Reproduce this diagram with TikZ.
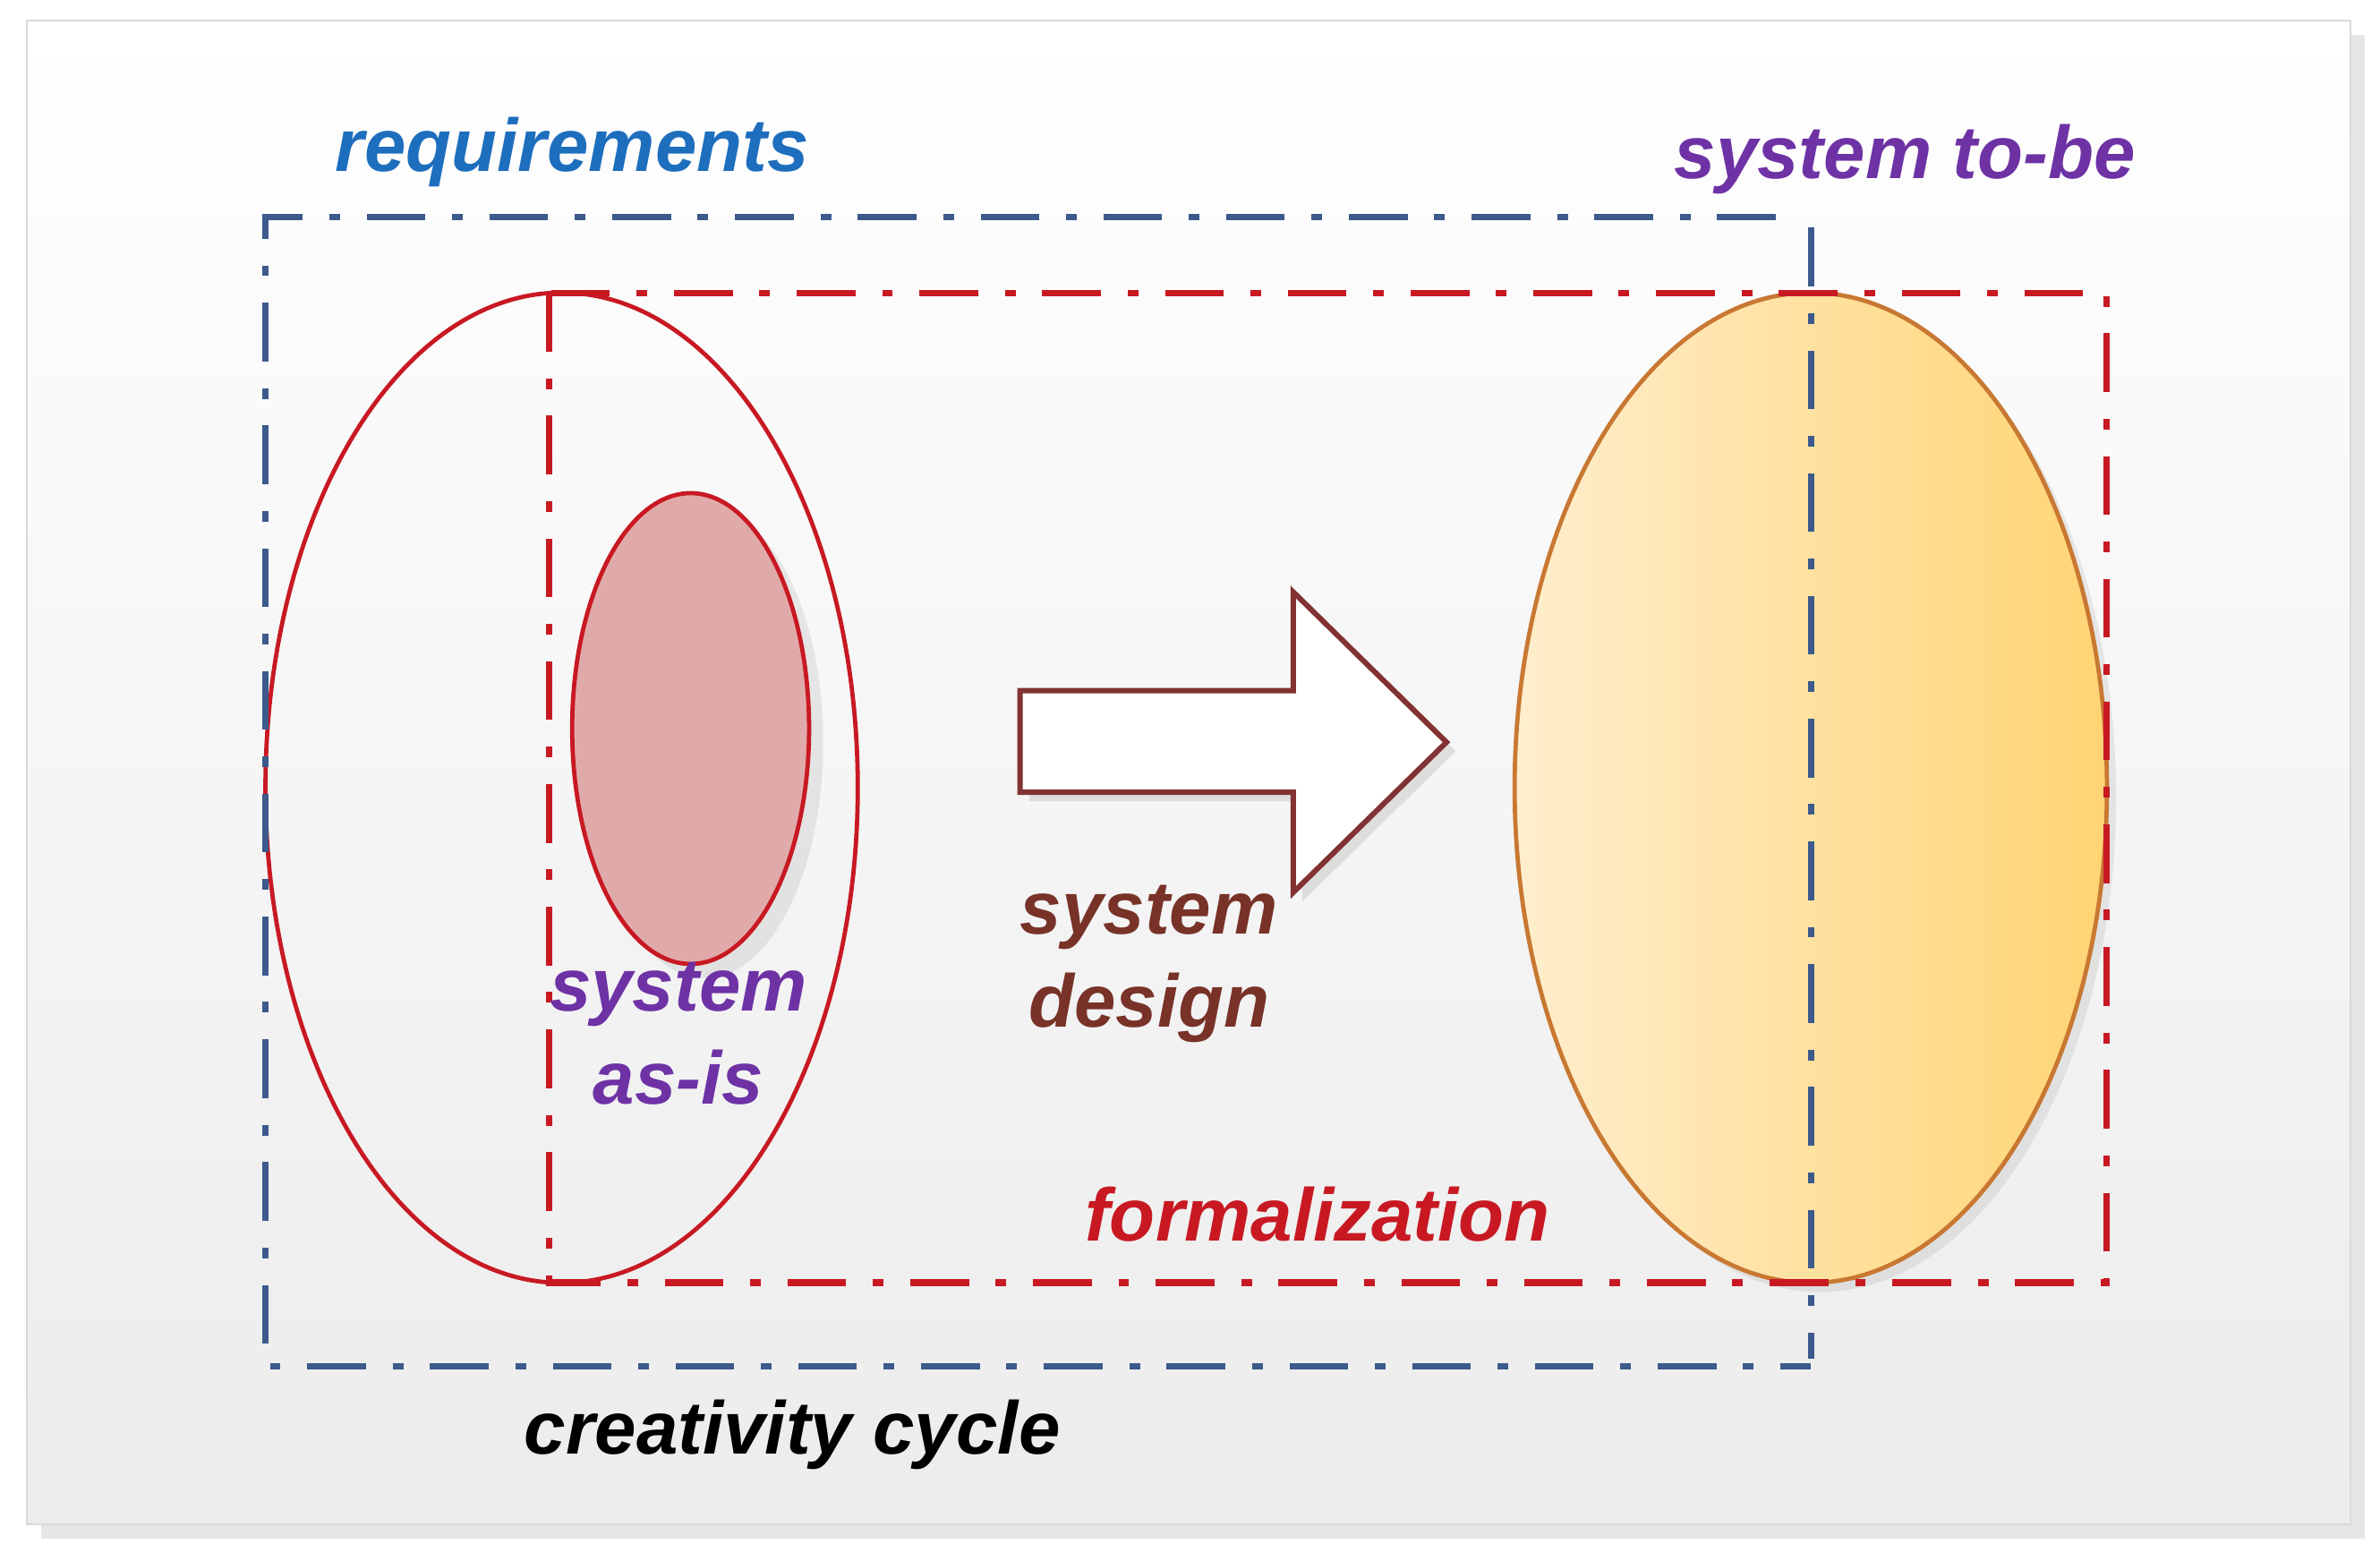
\documentclass[tikz,border=0pt]{standalone}
\usepackage{fontspec}
\setmainfont{Liberation Sans}
\usetikzlibrary{shadows,shapes.geometric}
\definecolor{bl}{RGB}{60,90,140}
\definecolor{rd}{RGB}{200,25,35}
\definecolor{reqc}{RGB}{30,110,190}
\definecolor{purp}{RGB}{110,50,165}
\definecolor{brn}{RGB}{120,50,40}
\tikzset{
 lbl/.style={font=\fontsize{14}{16}\selectfont\bfseries\itshape, align=center},
 dd/.style={line width=1.2pt, dash pattern=on 11pt off 5pt on 2pt off 5pt},
}
\begin{document}
\begin{tikzpicture}[x=0.01cm,y=-0.01cm]
\useasboundingbox (0,0) rectangle (1568,1028);
\node[draw=gray!30, top color=white, bottom color=gray!15, minimum width=15.3cm, minimum height=9.9cm, drop shadow={opacity=0.2}, inner sep=0] (bg) at (783,509) {};
% ellipses
\node[draw=rd, line width=0.8pt, ellipse, minimum width=3.9cm, minimum height=6.52cm, inner sep=0] (big) at (370,519) {};
\node[draw=rd, line width=0.8pt, fill={rgb,255:red,225;green,170;blue,170}, ellipse, minimum width=1.56cm, minimum height=3.1cm, inner sep=0, drop shadow={opacity=0.15}] (small) at (455,480) {};
\node[draw={rgb,255:red,200;green,120;blue,50}, line width=0.8pt, left color={rgb,255:red,255;green,238;blue,205}, right color={rgb,255:red,255;green,212;blue,115}, ellipse, minimum width=3.9cm, minimum height=6.52cm, inner sep=0, drop shadow={opacity=0.15,shadow xshift=0.06cm,shadow yshift=-0.06cm}] (tobe) at (1193,519) {};
% frames
\draw[bl, dd] (1170,143) -- (175,143) -- (175,900) -- (1193,900);
\draw[bl, dd] (1193,150) -- (1193,895);
\draw[rd, dd] (362,193) -- (362,845) -- (1388,845) -- (1388,193) -- (362,193);
% arrow
\draw[draw={rgb,255:red,130;green,50;blue,50}, fill=white, line width=1pt, drop shadow={opacity=0.2,shadow xshift=0.06cm,shadow yshift=-0.06cm}]
 (672,455) -- (852,455) -- (852,390) -- (953,489) -- (852,588) -- (852,522) -- (672,522) -- cycle;
% labels
\node[lbl, text=reqc] (req) at (377,100) {requirements};
\node[lbl, text=purp] (tb) at (1255,105) {system to-be};
\node[lbl, text=purp, font=\fontsize{14}{17.5}\selectfont\bfseries\itshape] (asis) at (447,681) {system\\as-is};
\node[lbl, text=brn, font=\fontsize{14}{17.5}\selectfont\bfseries\itshape] (des) at (757,635) {system\\design};
\node[lbl, text=rd] (form) at (868,800) {formalization};
\node[lbl, text=black] (cc) at (522,945) {creativity cycle};
\end{tikzpicture}
\end{document}
